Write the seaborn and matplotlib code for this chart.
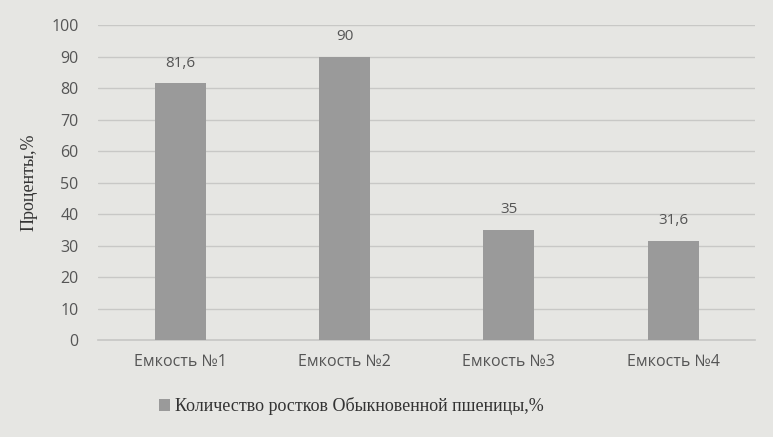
import matplotlib
matplotlib.use("Agg")
import matplotlib.pyplot as plt
import pandas as pd
import seaborn as sns
from matplotlib.patches import Patch

categories = ["Емкость №1", "Емкость №2", "Емкость №3", "Емкость №4"]
values = [81.6, 90, 35, 31.6]
value_labels = ["81,6", "90", "35", "31,6"]
y_ticks = [0, 10, 20, 30, 40, 50, 60, 70, 80, 90, 100]
series_name = "Количество ростков Обыкновенной пшеницы,%"

bg = "#e6e6e3"
bar_color = "#9a9a9a"
text_color = "#555555"

sns.set_theme(style="white")
plt.rcParams["font.family"] = ["Open Sans", "DejaVu Sans"]

df = pd.DataFrame({"category": categories, "value": values})

fig = plt.figure(figsize=(7.73, 4.37), dpi=100, facecolor=bg)
ax = fig.add_axes([0.127, 0.222, 0.85, 0.72])
ax.set_facecolor(bg)

sns.barplot(data=df, x="category", y="value", color=bar_color, width=0.31,
            saturation=1, linewidth=0, edgecolor="none", ax=ax, zorder=3)

ax.set_ylim(0, 100)
ax.set_yticks(y_ticks)
ax.yaxis.grid(True, color="#c8c8c6", linewidth=1, zorder=0)
for side in ["top", "right", "left"]:
    ax.spines[side].set_visible(False)
ax.spines["bottom"].set_color("#c8c8c6")
ax.tick_params(axis="both", length=0, colors=text_color, labelsize=11.5)
ax.tick_params(axis="y", pad=14)
ax.tick_params(axis="x", pad=10)

for patch, label in zip(ax.patches, value_labels):
    ax.annotate(label, (patch.get_x() + patch.get_width() / 2, patch.get_height()),
                xytext=(0, 9), textcoords="offset points", ha="center", va="bottom",
                color=text_color, fontsize=11)

ax.set_xlabel("")
ax.set_ylabel("Проценты,%", family=["Liberation Serif", "DejaVu Serif"],
              fontsize=13, color="#333333", labelpad=10)

handle = Patch(facecolor=bar_color, edgecolor="none")
fig.legend([handle], [series_name], loc="center", bbox_to_anchor=(0.455, 0.07),
           frameon=False, handlelength=0.6, handleheight=0.6, handletextpad=0.3,
           prop={"family": ["Liberation Serif", "DejaVu Serif"], "size": 13},
           labelcolor="#333333")

fig.savefig("out.png", dpi=100, facecolor=bg)
